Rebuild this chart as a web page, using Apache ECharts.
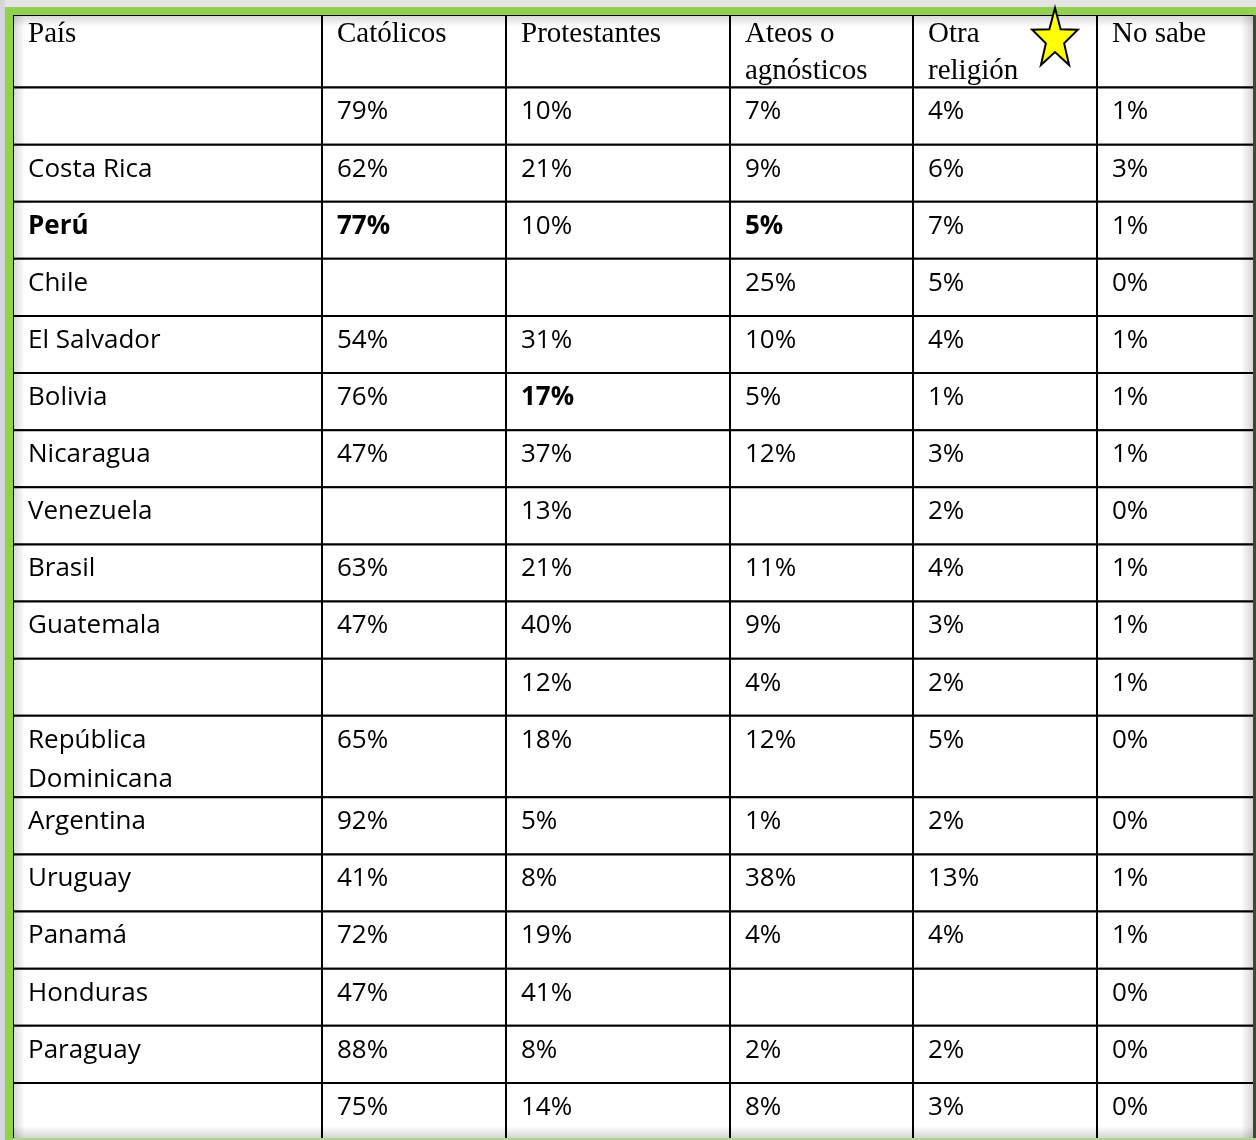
<!DOCTYPE html>
<html>
<head>
<meta charset="utf-8">
<title>Religión por país</title>
<script src="https://cdn.jsdelivr.net/npm/echarts@6/dist/echarts.min.js"></script>
<style>
  html, body { margin: 0; padding: 0; background: #ffffff; }
  #chart { width: 1256px; height: 1140px; }
</style>
</head>
<body>
<div id="chart"></div>
<script>
// datos de la tabla
const encabezados = ["País", "Católicos", "Protestantes", "Ateos o\nagnósticos", "Otra\nreligión", "No sabe"]
const paises = ["", "Costa Rica", "Perú", "Chile", "El Salvador", "Bolivia", "Nicaragua", "Venezuela", "Brasil",
  "Guatemala", "", "República Dominicana", "Argentina", "Uruguay", "Panamá", "Honduras", "Paraguay", ""]
const catolicos = [79, 62, 77, null, 54, 76, 47, null, 63, 47, null, 65, 92, 41, 72, 47, 88, 75]
const protestantes = [10, 21, 10, null, 31, 17, 37, 13, 21, 40, 12, 18, 5, 8, 19, 41, 8, 14]
const ateos = [7, 9, 5, 25, 10, 5, 12, null, 11, 9, 4, 12, 1, 38, 4, null, 2, 8]
const otra = [4, 6, 7, 5, 4, 1, 3, 2, 4, 3, 2, 5, 2, 13, 4, null, 2, 3]
const noSabe = [1, 3, 1, 0, 1, 1, 1, 0, 1, 1, 1, 0, 0, 1, 1, 0, 0, 0]
// celdas en negrita: [fila, columna]
const negritas = [[2, 0], [2, 1], [2, 3], [5, 2]]

// diseño (px)
const colEdges = [0, 309, 493, 717, 900, 1084, 1241]
const rowHeights = [73].concat(paises.map(p => (p === "República Dominicana" ? 82 : 57.5)))
const rowEdges = rowHeights.reduce((acc, h) => { acc.push(acc[acc.length - 1] + h); return acc }, [0])
const totalHeight = rowEdges[rowEdges.length - 1]

const columnas = [catolicos, protestantes, ateos, otra, noSabe]
const cells = []
encabezados.forEach((t, c) => cells.push({ row: 0, col: c, text: t, header: true }))
paises.forEach((p, i) => {
  const r = i + 1
  const bold = (c) => negritas.some(n => n[0] === i && n[1] === c)
  cells.push({ row: r, col: 0, text: p, bold: bold(0) })
  columnas.forEach((serie, k) => {
    const v = serie[i]
    cells.push({ row: r, col: k + 1, text: v == null ? "" : v + "%", bold: bold(k + 1) })
  })
})

const starPoints = (cx, cy, rx, ry, ratio) => {
  const pts = []
  for (let i = 0; i < 10; i++) {
    const a = -Math.PI / 2 + i * Math.PI / 5
    const f = i % 2 === 0 ? 1 : ratio
    pts.push([cx + Math.cos(a) * rx * f, cy + Math.sin(a) * ry * f])
  }
  return pts
}

const chart = echarts.init(document.getElementById("chart"))
const option = {
  animation: false,
  backgroundColor: "#ffffff",
  grid: { left: 13, top: 15, width: 1241, height: totalHeight },
  xAxis: { type: "value", min: 0, max: 1241, show: false },
  yAxis: { type: "value", min: 0, max: totalHeight, inverse: true, show: false },
  series: [
    {
      type: "custom",
      silent: true,
      clip: false,
      data: cells.map(c => [c.col, c.row]),
      renderItem: function (params, api) {
        const cell = cells[params.dataIndex]
        const col = api.value(0)
        const row = api.value(1)
        const p0 = api.coord([colEdges[col], rowEdges[row]])
        const p1 = api.coord([colEdges[col + 1], rowEdges[row + 1]])
        const w = p1[0] - p0[0]
        const h = p1[1] - p0[1]
        const textStyle = cell.header
          ? { fontFamily: "Liberation Serif", fontSize: 29, lineHeight: 37 }
          : { fontFamily: "Open Sans", fontSize: 26, lineHeight: 39, width: w - 60, overflow: "break" }
        return {
          type: "group",
          children: [
            {
              type: "rect",
              shape: { x: p0[0], y: p0[1], width: w, height: h },
              style: { fill: "#ffffff", stroke: "#000000", lineWidth: 2 }
            },
            {
              type: "text",
              x: p0[0] + 15,
              y: p0[1] + (cell.header ? 1 : 5),
              style: Object.assign({
                text: cell.text,
                fill: "#000000",
                fontWeight: cell.bold ? "bold" : "normal",
                align: "left",
                verticalAlign: "top"
              }, textStyle)
            }
          ]
        }
      }
    }
  ],
  graphic: [
    { type: "rect", z: 100, silent: true, shape: { x: 0, y: 0, width: 1256, height: 7 }, style: { fill: "#e4e4e4" } },
    { type: "rect", z: 100, silent: true, shape: { x: 0, y: 0, width: 5, height: 1140 }, style: { fill: "#d6d6d6" } },
    { type: "rect", z: 101, silent: true, shape: { x: 5, y: 7, width: 1251, height: 8 }, style: { fill: "#92d050" } },
    { type: "rect", z: 101, silent: true, shape: { x: 5, y: 7, width: 8, height: 1133 }, style: { fill: "#92d050" } },
    { type: "rect", z: 101, silent: true, shape: { x: 13, y: 1138, width: 1243, height: 2 }, style: { fill: "#a8d68a" } },
    { type: "rect", z: 101, silent: true, shape: { x: 1253, y: 15, width: 3, height: 1123 }, style: { fill: "#3e4638" } },
    {
      type: "rect", z: 99, silent: true, shape: { x: 13, y: 15, width: 1240, height: 12 },
      style: { fill: new echarts.graphic.LinearGradient(0, 0, 0, 1, [{ offset: 0, color: "rgba(0,0,0,0.16)" }, { offset: 1, color: "rgba(0,0,0,0)" }]) }
    },
    {
      type: "rect", z: 99, silent: true, shape: { x: 13, y: 15, width: 12, height: 1123 },
      style: { fill: new echarts.graphic.LinearGradient(0, 0, 1, 0, [{ offset: 0, color: "rgba(0,0,0,0.16)" }, { offset: 1, color: "rgba(0,0,0,0)" }]) }
    },
    {
      type: "rect", z: 99, silent: true, shape: { x: 1241, y: 15, width: 12, height: 1123 },
      style: { fill: new echarts.graphic.LinearGradient(0, 0, 1, 0, [{ offset: 0, color: "rgba(0,0,0,0)" }, { offset: 1, color: "rgba(0,0,0,0.16)" }]) }
    },
    {
      type: "rect", z: 99, silent: true, shape: { x: 13, y: 1126, width: 1240, height: 12 },
      style: { fill: new echarts.graphic.LinearGradient(0, 0, 0, 1, [{ offset: 0, color: "rgba(0,0,0,0)" }, { offset: 1, color: "rgba(0,0,0,0.16)" }]) }
    },
    {
      // estrella decorativa
      type: "polygon", z: 102, silent: true,
      shape: { points: starPoints(1055, 39.5, 24, 31.5, 0.4) },
      style: { fill: "#ffff00", stroke: "#000000", lineWidth: 2 }
    }
  ]
}
chart.setOption(option)
window.addEventListener("resize", () => chart.resize())
</script>
</body>
</html>
